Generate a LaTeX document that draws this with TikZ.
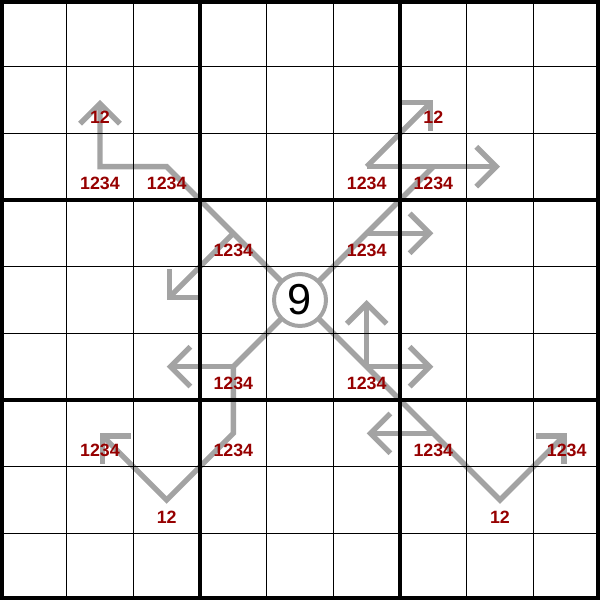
\documentclass[tikz,border=0pt]{standalone}
\usepackage{fontspec}
\setmainfont{Liberation Sans}
\usetikzlibrary{arrows.meta}
\definecolor{pathgray}{RGB}{163,163,163}
\definecolor{lbl}{RGB}{150,0,0}
\begin{document}
\begin{tikzpicture}[
  gpath/.style={draw=pathgray, line width=2.3pt, line join=miter},
  arr/.style={gpath, -{Straight Barb[length=8.5pt,width=17pt]}},
  num/.style={text=lbl, font=\fontsize{7.6}{8}\selectfont\bfseries, inner sep=0pt},
  thingrid/.style={line width=0.65pt, black},
  thickgrid/.style={line width=1.7pt, black},
]
\useasboundingbox (0,0) rectangle (9,9);
\foreach \r in {0,...,8}{\foreach \c in {0,...,8}{\coordinate (c\r\c) at (\c+0.5, 8.5-\r);}}
% gray paths
\draw[arr] (c44) -- (c22) -- (c21) -- (c11);
\draw[arr] (c33) -- (c42);
\draw[gpath] (c44) -- (c26);
\draw[arr] (c25) -- (c27);
\draw[arr] (c25) -- (c16);
\draw[arr] (c35) -- (c36);
\draw[arr] (c44) -- (c53) -- (c63) -- (c72) -- (c61);
\draw[arr] (c53) -- (c52);
\draw[arr] (c44) -- (c77) -- (c68);
\draw[arr] (c55) -- (c45);
\draw[arr] (c55) -- (c56);
\draw[arr] (c66) -- (c65);
% grid
\foreach \i in {1,2,4,5,7,8}{
  \draw[thingrid] (\i,0) -- (\i,9);
  \draw[thingrid] (0,\i) -- (9,\i);
}
\foreach \i in {3,6}{
  \draw[thickgrid] (\i,0) -- (\i,9);
  \draw[thickgrid] (0,\i) -- (9,\i);
}
\draw[thickgrid] (0.03,0.03) rectangle (8.97,8.97);
% circle
\node[circle, draw=pathgray, line width=1.7pt, fill=white, minimum size=0.78cm, inner sep=0pt,
      font=\fontsize{18.5}{20}\selectfont] (nine) at (c44) {9};
% labels
\foreach \r/\c/\t in {1/1/12, 2/1/1234, 2/2/1234, 3/3/1234,
                      1/6/12, 2/5/1234, 2/6/1234, 3/5/1234,
                      5/3/1234, 6/3/1234, 6/1/1234, 7/2/12,
                      5/5/1234, 6/6/1234, 6/8/1234, 7/7/12}{
  \node[num] (l\r\c) at ([yshift=-0.255cm]c\r\c) {\t};
}
\end{tikzpicture}
\end{document}
